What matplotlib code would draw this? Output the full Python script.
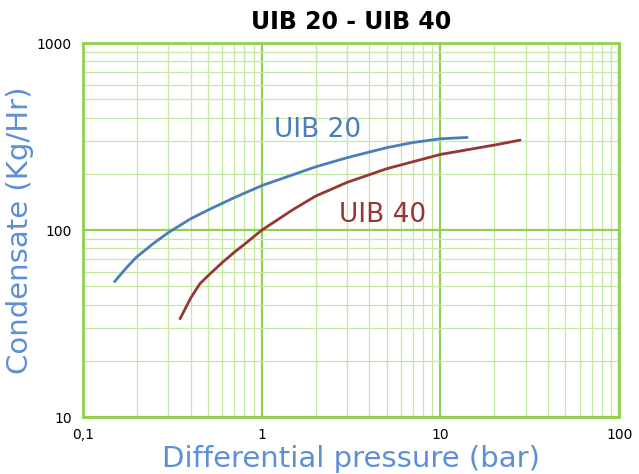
import matplotlib.pyplot as plt
from matplotlib.ticker import FixedLocator, FixedFormatter, LogLocator, NullFormatter

# curve readings (differential pressure in bar, condensate in kg/h)
uib20_x = [0.15, 0.175, 0.2, 0.25, 0.3, 0.4, 0.5, 0.7, 1.0, 2.0, 3.0, 5.0,
           7.0, 10.0, 14.1]
uib20_y = [53, 63, 72, 85.5, 97, 115, 128, 149, 173, 218, 244, 276,
           294, 308, 313]

uib40_x = [0.349, 0.4, 0.45, 0.5, 0.6, 0.7, 0.8, 1.0, 1.5, 2.0, 3.0, 5.0,
           10.0, 20.0, 27.9]
uib40_y = [33.6, 43.3, 51.6, 57, 67, 76, 84, 100, 129, 152, 180, 213,
           254, 285, 303]

x_ticks = [0.1, 1, 10, 100]
x_labels = ["0,1", "1", "10", "100"]
y_ticks = [10, 100, 1000]
y_labels = ["10", "100", "1000"]


def main():
    fig = plt.figure(figsize=(6.39, 4.74), dpi=100)
    ax = fig.add_axes([0.130, 0.120, 0.839, 0.789])
    ax.set_xscale("log")
    ax.set_yscale("log")
    ax.set_xlim(0.1, 100)
    ax.set_ylim(10, 1000)

    major_green = "#92d050"
    minor_green = "#c6e8a4"
    ax.xaxis.set_major_locator(FixedLocator(x_ticks))
    ax.xaxis.set_major_formatter(FixedFormatter(x_labels))
    ax.yaxis.set_major_locator(FixedLocator(y_ticks))
    ax.yaxis.set_major_formatter(FixedFormatter(y_labels))
    ax.xaxis.set_minor_locator(LogLocator(base=10, subs=range(2, 10)))
    ax.yaxis.set_minor_locator(LogLocator(base=10, subs=range(2, 10)))
    ax.xaxis.set_minor_formatter(NullFormatter())
    ax.yaxis.set_minor_formatter(NullFormatter())
    ax.grid(which="major", color=major_green, linewidth=1.6)
    ax.grid(which="minor", color=minor_green, linewidth=0.9)
    ax.set_axisbelow(True)
    ax.tick_params(which="both", length=0, labelsize=10, pad=8)
    for s in ax.spines.values():
        s.set_color(major_green)
        s.set_linewidth(2)

    ax.plot(uib20_x, uib20_y, color="#4a7ebb", linewidth=2,
            solid_joinstyle="round", solid_capstyle="round")
    ax.plot(uib40_x, uib40_y, color="#953735", linewidth=2,
            solid_joinstyle="round", solid_capstyle="round")

    ax.text(2.04, 343, "UIB 20", color="#4a7ebb", fontsize=19,
            ha="center", va="center")
    ax.text(4.74, 120, "UIB 40", color="#953735", fontsize=19,
            ha="center", va="center")

    ax.set_title("UIB 20 - UIB 40", fontsize=17, fontweight="bold", pad=10)
    ax.set_xlabel("Differential pressure (bar)", color="#5b8fd8", fontsize=21,
                  labelpad=2)
    ax.set_ylabel("Condensate (Kg/Hr)", color="#5b8fd8", fontsize=21, labelpad=2)

    fig.savefig("out.png", dpi=100)


if __name__ == "__main__":
    main()
